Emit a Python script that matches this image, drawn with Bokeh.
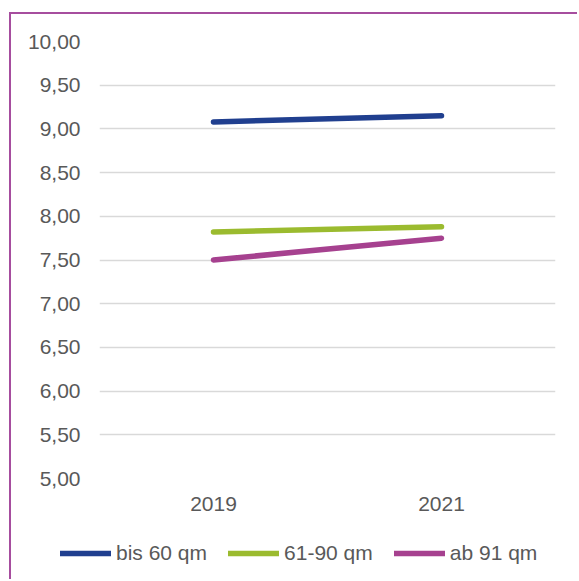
from bokeh.plotting import figure
from bokeh.models import (FactorRange, Range1d, FixedTicker, CustomJSTickFormatter,
                          Legend, LegendItem)
from bokeh.embed import file_html
from bokeh.resources import INLINE

# ---- data ----
years = ["2019", "2021"]
series_names = ["bis 60 qm", "61-90 qm", "ab 91 qm"]
bis_60_qm = [9.08, 9.15]
qm_61_90 = [7.82, 7.88]
ab_91_qm = [7.50, 7.75]
y_ticks = [5.0, 5.5, 6.0, 6.5, 7.0, 7.5, 8.0, 8.5, 9.0, 9.5, 10.0]
series_values = [bis_60_qm, qm_61_90, ab_91_qm]

colors = ["#203F8F", "#9BBB2F", "#A6418F"]
FONT = "Liberation Sans"
TXT = "#595959"
FS = "21px"
BORDER = "2px solid #A64D9E"

# ---- main chart ----
p = figure(width=568, height=526, output_backend="svg", toolbar_location=None,
           x_range=FactorRange(*years), y_range=Range1d(5, 10),
           min_border_left=88, min_border_right=24, min_border_top=27,
           min_border_bottom=62)
p.outline_line_color = None
p.background_fill_color = "white"
p.border_fill_color = "white"
p.styles = {"margin-left": "9px", "margin-top": "12px",
            "border-left": BORDER, "border-top": BORDER}

p.yaxis.ticker = FixedTicker(ticks=y_ticks)
p.yaxis.formatter = CustomJSTickFormatter(code="return tick.toFixed(2).replace('.', ',');")
for ax in (p.xaxis[0], p.yaxis[0]):
    ax.axis_line_color = None
    ax.major_tick_line_color = None
    ax.minor_tick_line_color = None
    ax.major_tick_out = 0
    ax.major_tick_in = 0
    ax.major_label_text_font = FONT
    ax.major_label_text_font_size = FS
    ax.major_label_text_color = TXT
p.yaxis.major_label_standoff = 19
p.xaxis.major_label_standoff = 18

p.xgrid.grid_line_color = None
p.ygrid.grid_line_color = "#D9D9D9"
p.ygrid.grid_line_width = 1.5

for vals, c in zip(series_values, colors):
    p.line(x=years, y=vals, line_color=c, line_width=5.5, line_cap="round")

# ---- legend strip (separate root, same series, renderers hidden) ----
lg = figure(width=568, height=41, output_backend="svg", toolbar_location=None,
            x_range=FactorRange(*years), y_range=Range1d(5, 10),
            x_axis_location=None, y_axis_location=None, min_border=0)
lg.outline_line_color = None
lg.grid.visible = False
lg.background_fill_color = "white"
lg.border_fill_color = "white"
lg.styles = {"margin-left": "9px", "border-left": BORDER}

legend_renderers = []
for vals, c in zip(series_values, colors):
    r = lg.line(x=years, y=vals, line_color=c, line_width=5.5, line_cap="round")
    r.visible = False
    legend_renderers.append(r)

legend = Legend(items=[LegendItem(label=n, renderers=[r])
                       for n, r in zip(series_names, legend_renderers)],
                orientation="horizontal", location=(49, 14),
                glyph_width=51, glyph_height=24, label_height=24,
                label_standoff=5, spacing=21, padding=0, margin=0,
                border_line_color=None, background_fill_alpha=0,
                inactive_fill_alpha=0,
                label_text_font=FONT, label_text_font_size=FS,
                label_text_color=TXT)
lg.add_layout(legend, "center")

open("out.html", "w").write(file_html([p, lg], INLINE))
